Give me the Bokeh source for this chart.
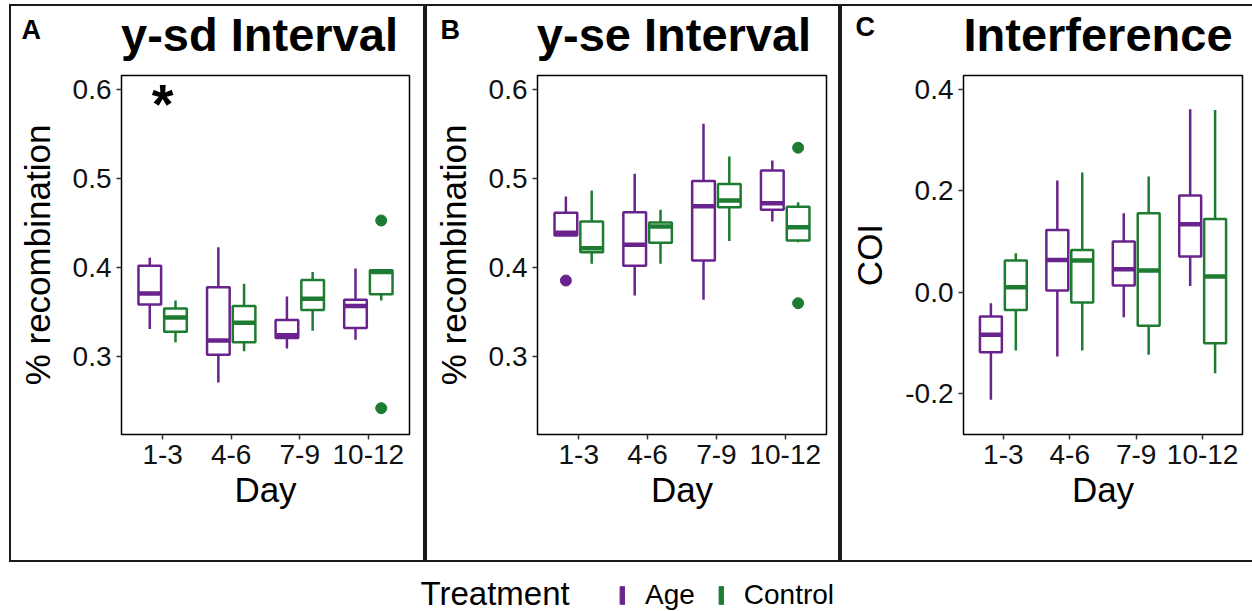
from bokeh.plotting import figure
from bokeh.models import (ColumnDataSource, Range1d, FixedTicker, PrintfTickFormatter,
                          Label, Legend, LegendItem, Spacer)
from bokeh.layouts import row, column
from bokeh.embed import file_html
from bokeh.resources import INLINE
from bokeh.core.properties import value

# ---------------- data ----------------
days = ["1-3", "4-6", "7-9", "10-12"]
treatments = ["Age", "Control"]
colors = {"Age": "#68238C", "Control": "#1D7B32"}

# Panel A: y-sd Interval (% recombination)
sd_age_low = [0.331, 0.271, 0.309, 0.319]
sd_age_q1 = [0.3585, 0.302, 0.321, 0.332]
sd_age_med = [0.371, 0.318, 0.324, 0.357]
sd_age_q3 = [0.402, 0.378, 0.341, 0.364]
sd_age_high = [0.411, 0.423, 0.3675, 0.399]
sd_ctrl_low = [0.316, 0.306, 0.329, 0.363]
sd_ctrl_q1 = [0.328, 0.316, 0.3525, 0.370]
sd_ctrl_med = [0.344, 0.338, 0.365, 0.395]
sd_ctrl_q3 = [0.354, 0.357, 0.386, 0.397]
sd_ctrl_high = [0.363, 0.382, 0.395, 0.3975]
sd_out_day = ["10-12", "10-12"]
sd_out_trt = ["Control", "Control"]
sd_out_val = [0.453, 0.242]

# Panel B: y-se Interval (% recombination)
se_age_low = [0.436, 0.3686, 0.3638, 0.4519]
se_age_q1 = [0.4361, 0.402, 0.408, 0.465]
se_age_med = [0.4391, 0.4256, 0.4691, 0.4725]
se_age_q3 = [0.4616, 0.4624, 0.4973, 0.5093]
se_age_high = [0.480, 0.5055, 0.5618, 0.5205]
se_ctrl_low = [0.4043, 0.4043, 0.4298, 0.4286]
se_ctrl_q1 = [0.4174, 0.4279, 0.468, 0.4305]
se_ctrl_med = [0.4219, 0.4463, 0.4755, 0.4455]
se_ctrl_q3 = [0.4519, 0.4508, 0.4939, 0.4684]
se_ctrl_high = [0.4868, 0.465, 0.525, 0.4736]
se_out_day = ["1-3", "10-12", "10-12"]
se_out_trt = ["Age", "Control", "Control"]
se_out_val = [0.3855, 0.5348, 0.360]

# Panel C: Interference (COI)
coi_age_low = [-0.2125, -0.127, -0.0493, 0.0125]
coi_age_q1 = [-0.1184, 0.0033, 0.0132, 0.0704]
coi_age_med = [-0.0842, 0.0638, 0.0454, 0.1342]
coi_age_q3 = [-0.048, 0.123, 0.100, 0.1908]
coi_age_high = [-0.0217, 0.2204, 0.156, 0.3612]
coi_ctrl_low = [-0.115, -0.115, -0.1237, -0.160]
coi_ctrl_q1 = [-0.0349, -0.0204, -0.0664, -0.1007]
coi_ctrl_med = [0.0099, 0.0625, 0.0428, 0.0309]
coi_ctrl_q3 = [0.0625, 0.0836, 0.156, 0.1447]
coi_ctrl_high = [0.077, 0.2362, 0.2283, 0.360]
coi_out_day = []
coi_out_trt = []
coi_out_val = []

# significance annotation (panel A)
sig_day = ["1-3"]
sig_y = [0.584]
sig_text = ["*"]

FONT = "Liberation Sans"
DODGE = {"Age": -0.1875, "Control": 0.1875}
BOX_W = 0.33
XR = (0.4, 4.6)
HEAD_H = 69
MAIN_H = 489
LINE = "2px solid #1a1a1a"


def xpos(day, trt):
    return days.index(day) + 1 + DODGE[trt]


def draw_boxes(p, trt, low, q1, med, q3, high):
    xs = [xpos(d, trt) for d in days]
    src = ColumnDataSource(dict(x=xs, low=low, q1=q1, med=med, q3=q3, high=high,
                                x0=[x - BOX_W / 2 for x in xs], x1=[x + BOX_W / 2 for x in xs]))
    c = colors[trt]
    p.segment(x0="x", y0="q3", x1="x", y1="high", source=src, line_color=c, line_width=2.5)
    p.segment(x0="x", y0="low", x1="x", y1="q1", source=src, line_color=c, line_width=2.5)
    p.vbar(x="x", width=BOX_W, bottom="q1", top="q3", source=src, fill_color="white",
           line_color=c, line_width=2.5)
    p.segment(x0="x0", y0="med", x1="x1", y1="med", source=src, line_color=c, line_width=4.5)


def make_header(letter, title, width, letter_x, letter_y, title_x, right_border=True):
    st = {"border-top": LINE, "border-left": LINE}
    if right_border:
        st["border-right"] = LINE
    h = figure(width=width, height=HEAD_H, x_range=Range1d(0, width), y_range=Range1d(0, HEAD_H),
               output_backend="svg", toolbar_location=None, x_axis_location=None,
               y_axis_location=None, min_border=0, outline_line_color=None, styles=st)
    h.xgrid.visible = False
    h.ygrid.visible = False
    h.add_layout(Label(x=letter_x, y=letter_y, text=letter, text_font=FONT, text_font_size="27px",
                       text_font_style="bold", text_color="black", text_baseline="alphabetic"))
    h.add_layout(Label(x=title_x, y=40.7, text=title, text_font=FONT, text_font_size="47px",
                       text_font_style="bold", text_color="black", text_align="center",
                       text_baseline="alphabetic"))
    return h


def make_panel(ylabel, yr, yticks, width, mbl, mbr, stats, outs, right_border=True):
    st = {"border-bottom": LINE, "border-left": LINE}
    if right_border:
        st["border-right"] = LINE
    p = figure(width=width, height=MAIN_H, x_range=Range1d(*XR), y_range=Range1d(*yr),
               output_backend="svg", toolbar_location=None,
               min_border_left=mbl, min_border_right=mbr, min_border_top=2,
               min_border_bottom=128,
               background_fill_color="white", border_fill_color="white", styles=st)
    p.outline_line_color = "black"
    p.outline_line_width = 1.5
    p.xgrid.visible = False
    p.ygrid.visible = False

    p.xaxis.ticker = FixedTicker(ticks=[1, 2, 3, 4])
    p.xaxis.major_label_overrides = {i + 1: d for i, d in enumerate(days)}
    p.yaxis.ticker = FixedTicker(ticks=yticks)
    p.yaxis.formatter = PrintfTickFormatter(format="%.1f")
    for ax in (p.xaxis[0], p.yaxis[0]):
        ax.axis_line_color = None
        ax.major_tick_in = 0
        ax.major_tick_out = 5
        ax.major_tick_line_color = "#333333"
        ax.major_tick_line_width = 1.5
        ax.minor_tick_line_color = None
        ax.major_label_text_font = FONT
        ax.major_label_text_font_size = "28px"
        ax.major_label_text_color = "#111111"
        ax.major_label_standoff = 5
        ax.axis_label_text_font = FONT
        ax.axis_label_text_font_size = "35px"
        ax.axis_label_text_font_style = "normal"
        ax.axis_label_text_color = "black"
    p.xaxis.axis_label = "Day"
    p.xaxis.axis_label_standoff = 3
    p.yaxis.axis_label = ylabel
    p.yaxis.axis_label_standoff = 13

    for trt, (low, q1, med, q3, high) in stats.items():
        draw_boxes(p, trt, low, q1, med, q3, high)

    od, ot, ov = outs
    if ov:
        osrc = ColumnDataSource(dict(x=[xpos(d, t) for d, t in zip(od, ot)], y=ov,
                                     c=[colors[t] for t in ot]))
        p.scatter(x="x", y="y", source=osrc, size=11, fill_color="c", line_color="c")
    return p


hA = make_header("A", "y-sd Interval", 416, 10, 45.3, 248)
pA = make_panel("% recombination", (0.2124, 0.616), [0.3, 0.4, 0.5, 0.6], 416, 110, 18,
                {"Age": (sd_age_low, sd_age_q1, sd_age_med, sd_age_q3, sd_age_high),
                 "Control": (sd_ctrl_low, sd_ctrl_q1, sd_ctrl_med, sd_ctrl_q3, sd_ctrl_high)},
                (sd_out_day, sd_out_trt, sd_out_val))
sig_src = ColumnDataSource(dict(x=[days.index(d) + 1 for d in sig_day], y=sig_y, t=sig_text))
pA.text(x="x", y="y", text="t", source=sig_src, text_font=value(FONT), text_font_size="56px",
        text_font_style="bold", text_align="center", text_baseline="alphabetic", text_color="black")

hB = make_header("B", "y-se Interval", 415, 13, 45.3, 246.5)
pB = make_panel("% recombination", (0.2124, 0.616), [0.3, 0.4, 0.5, 0.6], 415, 110, 16,
                {"Age": (se_age_low, se_age_q1, se_age_med, se_age_q3, se_age_high),
                 "Control": (se_ctrl_low, se_ctrl_q1, se_ctrl_med, se_ctrl_q3, se_ctrl_high)},
                (se_out_day, se_out_trt, se_out_val))

hC = make_header("C", "Interference", 412, 13, 48.3, 255.5, right_border=False)
pC = make_panel("COI", (-0.281, 0.428), [-0.2, 0.0, 0.2, 0.4], 412, 121, 12,
                {"Age": (coi_age_low, coi_age_q1, coi_age_med, coi_age_q3, coi_age_high),
                 "Control": (coi_ctrl_low, coi_ctrl_q1, coi_ctrl_med, coi_ctrl_q3, coi_ctrl_high)},
                (coi_out_day, coi_out_trt, coi_out_val), right_border=False)

# ---------------- legend row ----------------
pL = figure(width=1252, height=49, x_range=Range1d(0, 1252), y_range=Range1d(0, 49),
            output_backend="svg", toolbar_location=None, x_axis_location=None,
            y_axis_location=None, min_border=0, outline_line_color=None)
pL.xgrid.visible = False
pL.ygrid.visible = False
items = []
for trt in treatments:
    # key-only renderers: their single bar lies outside the visible range
    r = pL.vbar(x=[-1000], top=[-1000], bottom=[-1001], width=1,
                fill_color=colors[trt], line_color=colors[trt])
    items.append(LegendItem(label=trt, renderers=[r]))
leg = Legend(items=items, orientation="horizontal", location=(619, 0), glyph_width=6,
             glyph_height=22, label_standoff=20, spacing=23, padding=0, margin=0,
             border_line_color=None, background_fill_alpha=0, label_text_font=FONT,
             label_text_font_size="28px", label_text_color="black")
pL.add_layout(leg, "center")
pL.add_layout(Label(x=420, y=17.6, text="Treatment", text_font=FONT, text_font_size="33px",
                    text_baseline="alphabetic", text_color="black"))

layout = column(Spacer(width=1252, height=4),
                row(Spacer(width=9, height=HEAD_H), hA, hB, hC),
                row(Spacer(width=9, height=MAIN_H), pA, pB, pC),
                pL)

open("out.html", "w").write(file_html(layout, INLINE))
